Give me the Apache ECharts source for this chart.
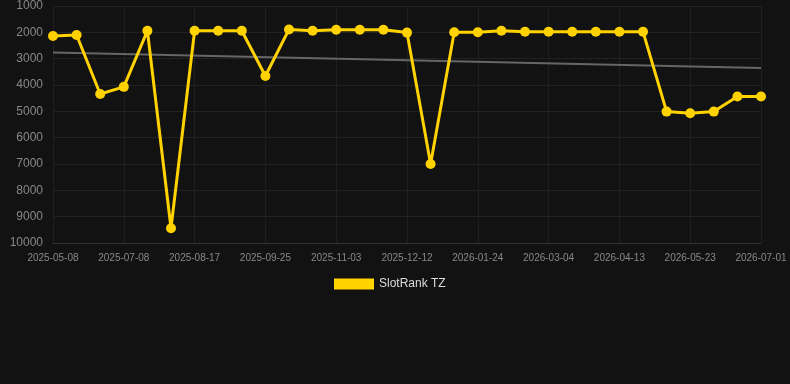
<!DOCTYPE html>
<html>
<head>
<meta charset="utf-8">
<script src="https://cdn.jsdelivr.net/npm/echarts@6/dist/echarts.min.js"></script>
<style>
  html, body { margin: 0; padding: 0; background: #121212; }
  #chart { width: 790px; height: 384px; }
</style>
</head>
<body>
<div id="chart"></div>
<script>
  // 日期（只有每隔三个显示标签）
  const dates = [
    '2025-05-08', '2025-05-28', '2025-06-17', '2025-07-08', '2025-07-21', '2025-08-04',
    '2025-08-17', '2025-08-30', '2025-09-12', '2025-09-25', '2025-10-08', '2025-10-21',
    '2025-11-03', '2025-11-16', '2025-11-29', '2025-12-12', '2025-12-26', '2026-01-09',
    '2026-01-24', '2026-02-06', '2026-02-19', '2026-03-04', '2026-03-17', '2026-03-30',
    '2026-04-13', '2026-04-26', '2026-05-09', '2026-05-23', '2026-06-05', '2026-06-18',
    '2026-07-01'
  ]
  // 排名
  const ranks = [
    2140, 2100, 4340, 4070, 1940, 9440, 1940, 1940, 1940, 3660, 1890, 1940,
    1900, 1900, 1900, 2010, 7000, 2000, 2000, 1940, 1975, 1975, 1975, 1975,
    1975, 1975, 5010, 5075, 5010, 4440, 4440
  ]
  // 趋势线的两个端点
  const trendStart = 2770
  const trendEnd = 3355
  const trend = dates.map((d, i) => (i === 0 ? trendStart : i === dates.length - 1 ? trendEnd : null))

  const yTicks = { min: 1000, max: 10000, interval: 1000 }

  const chart = echarts.init(document.getElementById('chart'))
  chart.setOption({
    backgroundColor: '#121212',
    animation: false,
    grid: { left: 53, right: 29, top: 6, bottom: 141 },
    legend: {
      data: ['SlotRank TZ'],
      top: 273,
      left: 329,
      icon: 'rect',
      itemWidth: 40,
      itemHeight: 11,
      itemGap: 10,
      textStyle: { color: '#dddddd', fontSize: 12, fontFamily: 'Arial, Liberation Sans, sans-serif' }
    },
    xAxis: {
      type: 'category',
      data: dates,
      boundaryGap: false,
      axisLine: { show: true, lineStyle: { color: '#333333' } },
      axisTick: { show: false },
      axisLabel: {
        interval: 2,
        color: '#888888',
        fontSize: 10,
        margin: 10,
        fontFamily: 'Arial, Liberation Sans, sans-serif'
      },
      splitLine: { show: true, interval: 2, lineStyle: { color: '#1f1f1f' } }
    },
    yAxis: {
      type: 'value',
      inverse: true,
      min: yTicks.min,
      max: yTicks.max,
      interval: yTicks.interval,
      axisLine: { show: false },
      axisTick: { show: false },
      axisLabel: {
        color: '#888888',
        fontSize: 12,
        margin: 10,
        formatter: (v) => String(v),
        fontFamily: 'Arial, Liberation Sans, sans-serif'
      },
      splitLine: { show: true, lineStyle: { color: '#222222' } }
    },
    series: [
      {
        name: 'trend',
        type: 'line',
        data: trend,
        connectNulls: true,
        symbol: 'none',
        lineStyle: { color: '#666666', width: 2 },
        z: 1
      },
      {
        name: 'SlotRank TZ',
        type: 'line',
        data: ranks,
        symbol: 'circle',
        symbolSize: 10,
        itemStyle: { color: '#ffd200' },
        lineStyle: { color: '#ffd200', width: 3 },
        z: 2
      }
    ]
  })
</script>
</body>
</html>
